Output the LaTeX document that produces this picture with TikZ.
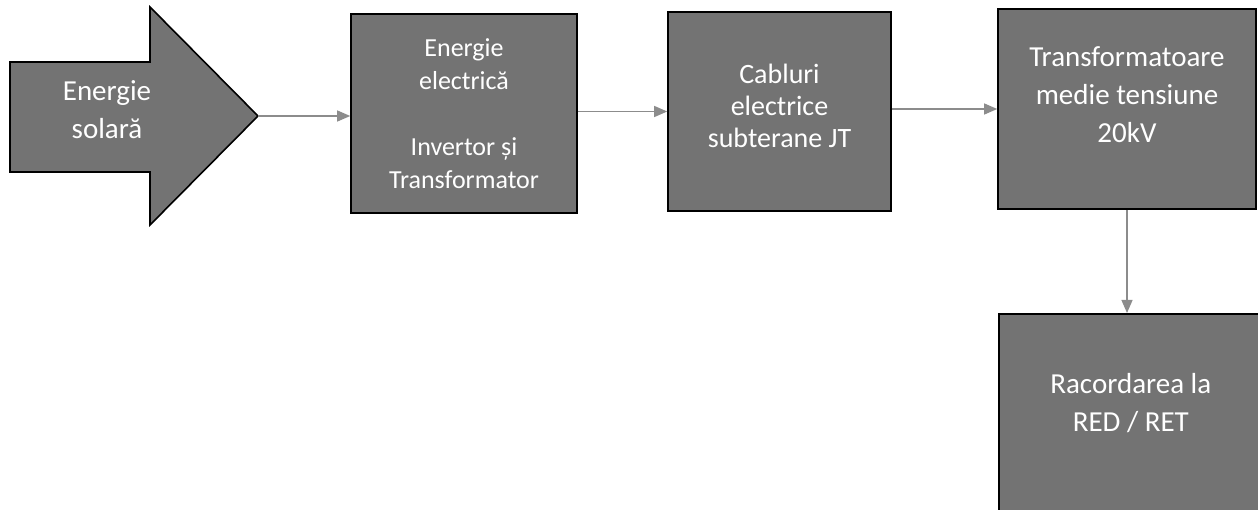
\documentclass[tikz,border=0pt]{standalone}
\usepackage{fontspec}
\setmainfont{Carlito}
\usetikzlibrary{arrows.meta}

\definecolor{boxgray}{gray}{0.45}
\definecolor{linkgray}{gray}{0.55}

\begin{document}
\begin{tikzpicture}[x=1pt,y=-1pt]
  \def\fs{29}

\tikzset{
  stage/.style={rectangle,draw=black,line width=1.6pt,fill=boxgray,text=white,
    align=center,inner sep=0pt},
  link/.style={draw=linkgray,line width=1.2pt,
    -{Triangle[length=13pt,width=11pt,fill=linkgray]}}
}
\useasboundingbox (0,0) rectangle (1258,510);
\clip (0,0) rectangle (1258,510);

% source arrow
\filldraw[draw=black,line width=1.6pt,fill=boxgray,line join=miter]
  (10,62) -- (150,62) -- (150,7) -- (258,116) -- (150,225) -- (150,172) -- (10,172) -- cycle;
\coordinate (solartip) at (258,116);
\node[text=white,align=center,font={\fontsize{\fs}{38}\selectfont}] (solar) at (107,110)
  {Energie\\solară};

% stages
\node[stage,minimum width=226pt,minimum height=199pt,font={\fontsize{26}{33}\selectfont}]
  (elec) at (464,113.5) {Energie\\electrică\\[33pt]Invertor și\\Transformator};
\node[stage,minimum width=223pt,minimum height=199pt,text depth=12pt,
  font={\fontsize{28}{32}\selectfont}]
  (cab) at (779.5,111.5) {Cabluri\\electrice\\subterane JT};
\node[stage,minimum width=258pt,minimum height=200pt,text depth=28pt,
  font={\fontsize{\fs}{38}\selectfont}]
  (trafo) at (1127,109) {Transformatoare\\medie tensiune\\20kV};
\node[stage,minimum width=264pt,minimum height=207pt,anchor=north west,text depth=30pt,
  font={\fontsize{\fs}{38}\selectfont}] (red) at (998,313) {Racordarea la\\RED / RET};

% links
\draw[link] (solartip) -- (solartip -| elec.west);
\draw[link] (elec.east |- cab.west) -- (cab.west);
\draw[link] (cab.east |- trafo.west) -- (trafo.west);
\draw[link] (trafo.south) -- (trafo.south |- red.north);
\end{tikzpicture}
\end{document}
